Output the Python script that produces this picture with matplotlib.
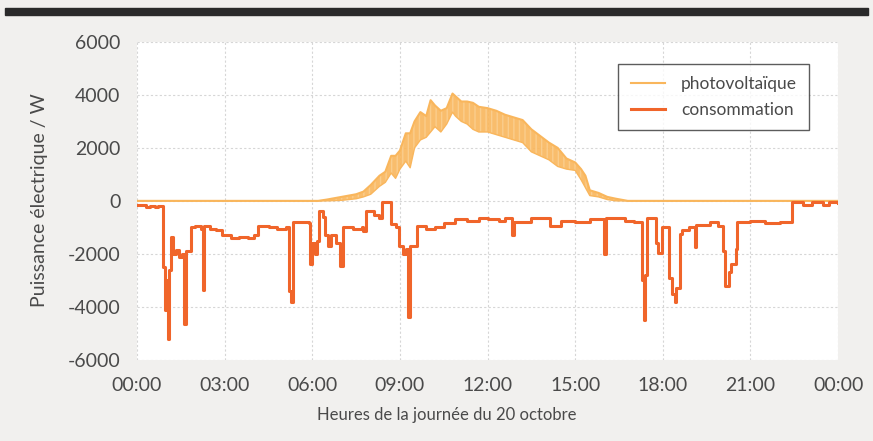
import matplotlib.pyplot as plt
from matplotlib.patches import Rectangle

# ============== DATA ==============
# consommation : step series (hour, watts)
cons_hours = [0.0, 0.3, 0.45, 0.6, 0.7, 0.9, 0.97, 1.0, 1.05, 1.1, 1.16, 1.22, 1.35, 1.45,
              1.55, 1.6, 1.66, 1.85, 2.0, 2.2, 2.25, 2.3, 2.5, 2.7, 2.9, 3.2, 3.5, 3.8,
              4.0, 4.15, 4.5, 4.8, 5.1, 5.2, 5.28, 5.35, 5.9, 5.93, 6.0, 6.1, 6.15, 6.23,
              6.35, 6.45, 6.55, 6.65, 6.8, 6.95, 7.05, 7.4, 7.7, 7.75, 7.85, 8.1, 8.3,
              8.4, 8.7, 8.85, 8.98, 9.1, 9.2, 9.28, 9.33, 9.6, 9.9, 10.2, 10.5, 10.9,
              11.3, 11.7, 12.0, 12.4, 12.6, 12.85, 12.9, 13.5, 14.15, 14.5, 15.0, 15.5,
              16.0, 16.07, 16.7, 17.0, 17.3, 17.35, 17.4, 17.45, 17.75, 17.85, 17.98,
              18.2, 18.3, 18.4, 18.45, 18.6, 18.65, 18.9, 19.1, 19.15, 19.6, 19.9,
              20.07, 20.12, 20.25, 20.35, 20.5, 20.55, 21.0, 21.5, 22.0, 22.43, 22.8,
              23.1, 23.5, 23.7, 24.0]
cons_watts = [-150, -220, -180, -250, -200, -2500, -4100, -3000, -5200, -2600, -1350, -2000,
              -1850, -2100, -2000, -4650, -1900, -1000, -950, -1050, -3350, -950, -1050,
              -1100, -1300, -1400, -1350, -1400, -1300, -950, -1000, -1050, -1000, -3400,
              -3800, -800, -850, -2400, -1600, -2000, -1500, -400, -600, -1300, -1700,
              -1300, -1600, -2450, -1000, -1050, -1000, -1150, -400, -550, -650, -50,
              -870, -1000, -1700, -2000, -1800, -4400, -1700, -950, -1050, -1000, -850,
              -700, -750, -650, -700, -750, -650, -1300, -800, -650, -950, -750, -800,
              -700, -2000, -650, -750, -800, -3000, -4500, -2800, -650, -1600, -1950,
              -1000, -2900, -3500, -3800, -3300, -1250, -1100, -1000, -1750, -900, -800,
              -950, -1900, -3200, -2700, -2400, -1800, -800, -750, -850, -800, -50, -150,
              -50, -150, -50, -80]

# photovoltaïque : upper / lower envelope of the fast-varying production
pv_hours = [0, 6.2, 6.5, 7.0, 7.5, 7.75, 8.0, 8.3, 8.5, 8.7, 8.85, 9.0, 9.2, 9.35, 9.5,
            9.7, 9.9, 10.05, 10.2, 10.4, 10.6, 10.8, 10.9, 11.1, 11.3, 11.5, 11.7, 12.0,
            12.3, 12.6, 12.9, 13.2, 13.5, 13.8, 14.1, 14.4, 14.7, 15.0, 15.2, 15.35,
            15.5, 15.8, 16.1, 16.4, 16.8, 24]
pv_high = [0, 0, 50, 150, 250, 350, 600, 950, 1100, 1700, 1700, 1900, 2550, 2550, 3000,
           3350, 3200, 3800, 3600, 3400, 3500, 4050, 3950, 3750, 3750, 3700, 3550, 3500,
           3400, 3250, 3150, 3050, 2700, 2450, 2200, 2000, 1600, 1450, 1200, 950, 400,
           300, 150, 80, 0, 0]
pv_low = [0, 0, 0, 20, 80, 150, 250, 550, 700, 1050, 850, 1200, 1500, 1250, 2000, 2300,
          2400, 2600, 2800, 2600, 2900, 3350, 3200, 3000, 2900, 2700, 2600, 2600, 2500,
          2400, 2300, 2200, 1850, 1700, 1550, 1300, 1200, 1150, 800, 500, 200, 150, 50,
          0, 0, 0]

x_ticks = [0, 3, 6, 9, 12, 15, 18, 21, 24]
x_labels = ["00:00", "03:00", "06:00", "09:00", "12:00", "15:00", "18:00", "21:00", "00:00"]
y_ticks = [-6000, -4000, -2000, 0, 2000, 4000, 6000]

PV_COLOR = "#f9b65c"
CONS_COLOR = "#f0652a"
TEXT_COLOR = "#4a4a4a"

plt.rcParams["font.family"] = ["Lato", "DejaVu Sans"]
plt.rcParams["axes.unicode_minus"] = False

fig = plt.figure(figsize=(8.73, 4.41), dpi=100, facecolor="#f1f0ee")
ax = fig.add_axes([0.157, 0.184, 0.803, 0.721])
ax.set_facecolor("white")

# dark band at the top of the page
fig.patches.append(Rectangle((0.006, 0.966), 0.988, 0.016, transform=fig.transFigure,
                             color="#2a2a2a", zorder=5))

ax.fill_between(pv_hours, pv_low, pv_high, facecolor=PV_COLOR, edgecolor="#fbcf90",
                hatch="|||", alpha=0.9, lw=0, zorder=2)
ax.plot(pv_hours, pv_high, color=PV_COLOR, lw=1.5, zorder=3, label="photovoltaïque")
ax.plot(pv_hours, pv_low, color=PV_COLOR, lw=1.0, zorder=3)
ax.plot(cons_hours, cons_watts, color=CONS_COLOR, lw=2.2, drawstyle="steps-post",
        zorder=4, label="consommation")

ax.set_xlim(0, 24)
ax.set_ylim(-6000, 6000)
ax.set_xticks(x_ticks)
ax.set_xticklabels(x_labels)
ax.set_yticks(y_ticks)
ax.tick_params(axis="y", length=0, labelsize=14, labelcolor=TEXT_COLOR, pad=12)
ax.tick_params(axis="x", length=0, labelsize=14, labelcolor=TEXT_COLOR, pad=12)
ax.grid(True, color="#d6d6d6", lw=0.8, ls=(0, (2, 2)))
ax.set_axisbelow(True)
for s in ax.spines.values():
    s.set_visible(False)

fig.text(447 / 873, 1 - 415 / 441, "Heures de la journée du 20 octobre", fontsize=12,
         color=TEXT_COLOR, ha="center", va="center")
fig.text(40 / 873, 1 - 200 / 441, "Puissance électrique / W", fontsize=14,
         color=TEXT_COLOR, ha="center", va="center", rotation=90)

leg = ax.legend(loc="upper right", bbox_to_anchor=(0.971, 0.958), fontsize=12.5,
                frameon=True, fancybox=False, edgecolor="#333333", handlelength=2.0,
                borderpad=0.7, labelspacing=0.55, handletextpad=0.9)
leg.get_frame().set_linewidth(1.0)
for t in leg.get_texts():
    t.set_color(TEXT_COLOR)

plt.savefig("out.png", dpi=100, facecolor=fig.get_facecolor())
